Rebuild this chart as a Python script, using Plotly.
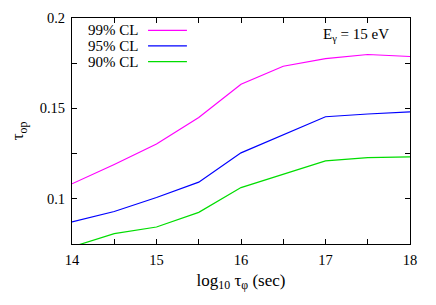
import plotly.graph_objects as go

log_tau = [14, 14.5, 15, 15.5, 16, 16.5, 17, 17.5, 18]
cl99 = [0.1083, 0.1190, 0.1303, 0.1450, 0.1634, 0.1733, 0.1775, 0.1798, 0.1787]
cl95 = [0.0872, 0.0930, 0.1007, 0.1092, 0.1254, 0.1353, 0.1454, 0.1469, 0.1481]
cl90 = [0.0734, 0.0807, 0.0844, 0.0925, 0.1062, 0.1138, 0.1210, 0.1228, 0.1232]
names = ["99% CL", "95% CL", "90% CL"]
colors = ["#ff00ff", "#0000ff", "#00dd00"]

font = "Liberation Serif"
fig = go.Figure()
for ys, n, c in zip([cl99, cl95, cl90], names, colors):
    fig.add_trace(go.Scatter(x=log_tau, y=ys, mode="lines", name=n,
                             line=dict(color=c, width=1.2), showlegend=False))

# manual legend (text left, sample line right)
leg_y = [0.945, 0.877, 0.807]
for n, c, yy in zip(names, colors, leg_y):
    fig.add_annotation(xref="paper", yref="paper", x=0.2, y=yy, text=n,
                       showarrow=False, xanchor="right", yanchor="middle",
                       font=dict(family=font, size=15, color="black"))
    fig.add_shape(type="line", xref="paper", yref="paper", x0=0.225, x1=0.34,
                  y0=yy, y1=yy, line=dict(color=c, width=1.2))

fig.add_annotation(xref="paper", yref="paper", x=0.945, y=0.925,
                   text="E<sub>γ</sub> = 15 eV", showarrow=False,
                   xanchor="right", yanchor="middle",
                   font=dict(family=font, size=15, color="black"))

axis_common = dict(showline=True, linecolor="black", linewidth=1, mirror="ticks",
                   ticks="inside", ticklen=5, tickcolor="black", showgrid=False,
                   zeroline=False, automargin=False,
                   tickfont=dict(family=font, size=14.5, color="black"))
fig.update_xaxes(range=[14, 18], dtick=1, tick0=14, ticklabelstandoff=3,
                 minor=dict(dtick=0.5, ticks="inside", ticklen=5, tickcolor="black"),
                 title=dict(text="log<sub>10</sub> τ<sub>φ</sub> (sec)", standoff=6,
                            font=dict(family=font, size=17, color="black")),
                 **axis_common)
fig.update_yaxes(range=[0.075, 0.2], dtick=0.05, tick0=0.1, ticklabelstandoff=3,
                 minor=dict(dtick=0.025, ticks="inside", ticklen=5, tickcolor="black"),
                 title=dict(text="τ<sub>op</sub>", standoff=14,
                            font=dict(family=font, size=17, color="black")),
                 **axis_common)
fig.update_layout(width=436, height=305, margin=dict(l=64, r=34, t=10, b=69),
                  plot_bgcolor="white", paper_bgcolor="white")
fig.write_html("out.html")
